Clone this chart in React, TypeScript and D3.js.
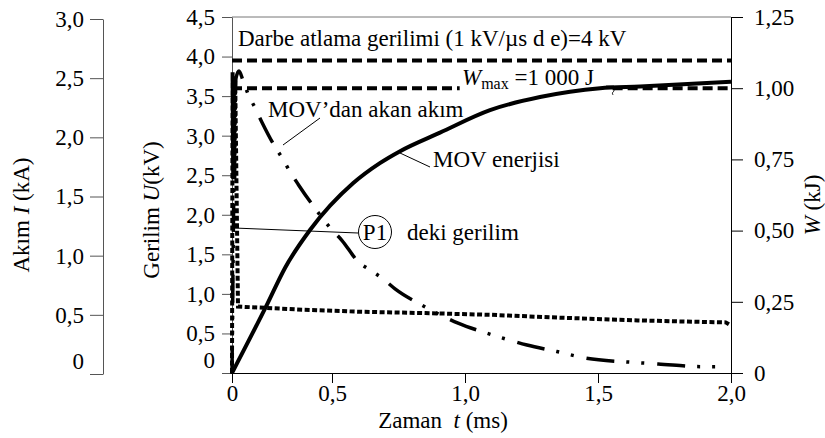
import React, { useEffect, useRef } from "react";
import * as d3 from "d3";

// time axis (ms)
const timeTicks = [0, 0.5, 1.0, 1.5, 2.0];
const voltageTicks = [0, 0.5, 1.0, 1.5, 2.0, 2.5, 3.0, 3.5, 4.0, 4.5];
const currentTicks = [0, 0.5, 1.0, 1.5, 2.0, 2.5, 3.0];
const energyTicks = [0, 0.25, 0.5, 0.75, 1.0, 1.25];

// MOV energy W (kJ)
const energyT = [0, 0.17, 0.265, 0.39, 0.58, 0.68, 0.756, 0.906, 1.094, 1.282, 1.508, 1.658, 2.0];
const energyW = [0, 0.233, 0.369, 0.502, 0.667, 0.737, 0.779, 0.844, 0.923, 0.969, 1.0, 1.006, 1.023];

// current through the MOV I (kA)
const currentT = [0, 0.02, 0.035, 0.055, 0.082, 0.115, 0.149, 0.215, 0.249, 0.29, 0.332, 0.415, 0.499,
  0.537, 0.598, 0.65, 0.694, 0.737, 0.831, 0.925, 0.974, 1.075, 1.132, 1.233, 1.345, 1.452, 1.62, 1.726, 1.89, 1.95];
const currentI = [0, 2.5, 2.56, 2.48, 2.36, 2.25, 2.13, 1.92, 1.83, 1.71, 1.6, 1.4, 1.22,
  1.13, 0.95, 0.87, 0.8, 0.72, 0.59, 0.48, 0.43, 0.35, 0.31, 0.245, 0.19, 0.135, 0.1, 0.085, 0.062, 0.062];

// voltage at P1 U (kV)
const p1T = [0, 0.003, 0.006, 0.009, 0.012, 0.016, 0.03, 0.35, 0.6, 0.85, 1.1, 1.35, 1.65, 1.9, 1.98, 2.0];
const p1U = [0, 3.8, 2.45, 3.75, 2.45, 3.7, 0.84, 0.8, 0.775, 0.757, 0.735, 0.7, 0.665, 0.645, 0.64, 0.6];

// reference levels
const flashoverU = 3.95;
const wMax = 1.0;
const wMaxSpans = [[0, 0.98], [1.555, 2.0]];

const FONT = "Liberation Serif, Tinos, DejaVu Serif, serif";
const FS = 23;
const W = 825;
const H = 438;

const fmt = (d: number, digits: number) => (d === 0 ? "0" : d.toFixed(digits).replace(".", ","));

const App = () => {
  const ref = useRef<SVGSVGElement>(null);

  useEffect(() => {
    document.body.style.margin = "0";
    const svg = d3.select(ref.current);
    svg.selectAll("*").remove();

    const x = d3.scaleLinear().domain([0, 0.5, 2.0]).range([232, 332, 731]);
    const yU = d3.scaleLinear().domain([0, 4.5]).range([373, 17]);
    const yW = d3.scaleLinear().domain([0, 1.25]).range([373, 17]);
    const yI = d3.scaleLinear().domain([0, 3]).range([374, 19]);

    const styleAxis = (g: any, stroke: string) => {
      g.attr("font-family", null).attr("font-size", null);
      g.selectAll("line").attr("stroke", stroke);
      g.selectAll("path").attr("stroke", stroke);
      g.selectAll("text").attr("fill", "#000");
    };

    // top frame
    svg
      .append("line")
      .attr("x1", x(0))
      .attr("x2", x(2))
      .attr("y1", yU(4.5))
      .attr("y2", yU(4.5))
      .attr("stroke", "#777");

    // current axis (far left)
    const gI = svg
      .append("g")
      .attr("transform", "translate(103,0)")
      .call(
        d3
          .axisLeft(yI)
          .tickValues(currentTicks)
          .tickSize(13)
          .tickSizeOuter(0)
          .tickPadding(6)
          .tickFormat((d) => fmt(+d, 1)),
      );
    styleAxis(gI, "#555");
    gI.selectAll<SVGTextElement, number>(".tick text")
      .filter((d) => d === 0)
      .attr("dy", "-0.22em");

    // voltage axis
    const gU = svg
      .append("g")
      .attr("transform", `translate(${x(0)},0)`)
      .call(
        d3
          .axisLeft(yU)
          .tickValues(voltageTicks)
          .tickSize(10)
          .tickSizeOuter(0)
          .tickPadding(7)
          .tickFormat((d) => fmt(+d, 1)),
      );
    styleAxis(gU, "#555");
    gU.selectAll<SVGTextElement, number>(".tick text")
      .filter((d) => d === 0)
      .attr("dy", "-0.22em");

    // energy axis (right)
    const gW = svg
      .append("g")
      .attr("transform", `translate(${x(2)},0)`)
      .call(
        d3
          .axisRight(yW)
          .tickValues(energyTicks)
          .tickSize(12)
          .tickSizeOuter(0)
          .tickPadding(11)
          .tickFormat((d) => fmt(+d, 2)),
      );
    styleAxis(gW, "#000");

    // time axis
    const gT = svg
      .append("g")
      .attr("transform", `translate(0,${yU(0)})`)
      .call(
        d3
          .axisBottom(x)
          .tickValues(timeTicks)
          .tickSize(10)
          .tickSizeOuter(0)
          .tickPadding(2)
          .tickFormat((d) => fmt(+d, 1)),
      );
    styleAxis(gT, "#000");

    // axis titles
    const titleI = svg
      .append("text")
      .attr("transform", "translate(29,215) rotate(-90)")
      .attr("text-anchor", "middle");
    titleI.append("tspan").text("Akım ");
    titleI.append("tspan").attr("font-style", "italic").text("I");
    titleI.append("tspan").text(" (kA)");

    const titleU = svg
      .append("text")
      .attr("transform", "translate(159,210) rotate(-90)")
      .attr("text-anchor", "middle");
    titleU.append("tspan").text("Gerilim ");
    titleU.append("tspan").attr("font-style", "italic").text("U");
    titleU.append("tspan").text("(kV)");

    const titleW = svg
      .append("text")
      .attr("transform", "translate(820,205) rotate(-90)")
      .attr("text-anchor", "middle");
    titleW.append("tspan").attr("font-style", "italic").text("W");
    titleW.append("tspan").text(" (kJ)");

    const titleT = svg
      .append("text")
      .attr("x", 443)
      .attr("y", 428)
      .attr("text-anchor", "middle")
      .style("white-space", "pre");
    titleT.append("tspan").text("Zaman  ");
    titleT.append("tspan").attr("font-style", "italic").text("t");
    titleT.append("tspan").text(" (ms)");

    // flashover voltage level
    svg
      .append("line")
      .attr("x1", x(0))
      .attr("x2", x(2))
      .attr("y1", yU(flashoverU))
      .attr("y2", yU(flashoverU))
      .attr("stroke", "#000")
      .attr("stroke-width", 4)
      .attr("stroke-dasharray", "10,5");

    // W max level
    svg
      .selectAll("line.wmax")
      .data(wMaxSpans)
      .enter()
      .append("line")
      .attr("class", "wmax")
      .attr("x1", (d) => x(d[0]))
      .attr("x2", (d) => x(d[1]))
      .attr("y1", yW(wMax))
      .attr("y2", yW(wMax))
      .attr("stroke", "#000")
      .attr("stroke-width", 4)
      .attr("stroke-dasharray", "10,5");

    // voltage at P1
    const p1Line = d3
      .line<number>()
      .x((d) => x(d))
      .y((_, i) => yU(p1U[i]));
    svg
      .append("path")
      .attr("d", p1Line(p1T))
      .attr("fill", "none")
      .attr("stroke", "#000")
      .attr("stroke-width", 4)
      .attr("stroke-dasharray", "5,2.5");

    // MOV current
    const iLine = d3
      .line<number>()
      .x((d) => x(d))
      .y((_, i) => yI(currentI[i]))
      .curve(d3.curveMonotoneX);
    svg
      .append("path")
      .attr("d", iLine(currentT))
      .attr("fill", "none")
      .attr("stroke", "#000")
      .attr("stroke-width", 3.5)
      .attr("stroke-dasharray", "28,12,3,12,3,13");

    // MOV energy
    const wLine = d3
      .line<number>()
      .x((d) => x(d))
      .y((_, i) => yW(energyW[i]))
      .curve(d3.curveMonotoneX);
    svg
      .append("path")
      .attr("d", wLine(energyT))
      .attr("fill", "none")
      .attr("stroke", "#000")
      .attr("stroke-width", 4);

    // annotations
    const label = (tx: number, ty: number, s: string) =>
      svg.append("text").attr("x", tx).attr("y", ty).text(s);

    label(238, 46, "Darbe atlama gerilimi (1 kV/µs d e)=4 kV");

    const wm = svg.append("text").attr("x", 462).attr("y", 85).style("white-space", "pre");
    wm.append("tspan").attr("font-style", "italic").text("W");
    wm.append("tspan").attr("font-size", 16).attr("dy", 4).text("max");
    wm.append("tspan").attr("dy", -4).text(" =1 000 J");

    svg
      .append("path")
      .attr("d", "M606,86 L614,86 L614,91 Q611,93 613,95")
      .attr("fill", "none")
      .attr("stroke", "#000")
      .attr("stroke-width", 0.8);

    label(268, 117, "MOV’dan akan akım");
    svg
      .append("line")
      .attr("x1", 320)
      .attr("y1", 118)
      .attr("x2", 283)
      .attr("y2", 145)
      .attr("stroke", "#000")
      .attr("stroke-width", 1);

    label(433, 167, "MOV enerjisi");
    svg
      .append("line")
      .attr("x1", 400)
      .attr("y1", 153)
      .attr("x2", 430)
      .attr("y2", 167)
      .attr("stroke", "#000")
      .attr("stroke-width", 1);

    svg
      .append("line")
      .attr("x1", 234)
      .attr("y1", 228)
      .attr("x2", 358)
      .attr("y2", 233)
      .attr("stroke", "#000")
      .attr("stroke-width", 1);
    svg
      .append("circle")
      .attr("cx", 375)
      .attr("cy", 232)
      .attr("r", 16.5)
      .attr("fill", "#fff")
      .attr("stroke", "#000")
      .attr("stroke-width", 1);
    label(375, 240, "P1").attr("text-anchor", "middle");
    label(407, 240, "deki gerilim");
  }, []);

  return (
    <svg
      ref={ref}
      width={W}
      height={H}
      fontFamily={FONT}
      fontSize={FS}
      style={{ display: "block", background: "#fff" }}
    />
  );
};

export default App;
